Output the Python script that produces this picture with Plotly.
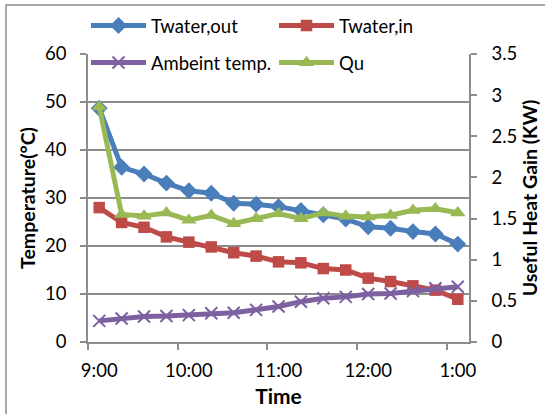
import plotly.graph_objects as go

times = ["9:00", "9:15", "9:30", "9:45", "10:00", "10:15", "10:30", "10:45", "11:00",
         "11:15", "11:30", "11:45", "12:00", "12:15", "12:30", "12:45", "1:00"]
t_out = [48.7, 36.4, 35.0, 33.1, 31.5, 31.0, 28.9, 28.7, 28.2, 27.4, 26.5, 25.6, 24.0, 23.7, 23.0, 22.5, 20.4]
t_in = [28.0, 24.9, 23.9, 21.9, 20.8, 19.8, 18.6, 17.9, 16.7, 16.5, 15.3, 15.0, 13.3, 12.6, 11.7, 10.8, 8.9]
t_amb = [4.4, 4.9, 5.3, 5.4, 5.6, 6.0, 6.1, 6.7, 7.4, 8.4, 9.1, 9.4, 10.0, 10.1, 10.6, 11.2, 11.5]
qu = [2.86, 1.55, 1.53, 1.57, 1.48, 1.54, 1.44, 1.50, 1.56, 1.50, 1.57, 1.53, 1.52, 1.54, 1.60, 1.62, 1.57]
label_times = ["9:00", "10:00", "11:00", "12:00", "1:00"]

xpos = list(range(len(times)))
label_pos = [times.index(t) for t in label_times]
boundary_pos = [p - 0.5 for p in label_pos]

BLUE, RED, PURPLE, GREEN = "#4A7EBB", "#BE4B48", "#7D60A0", "#98B954"
GRAY = "#8C8C8C"
FONT = "Lato"
W, H = 545, 414

fig = go.Figure()
fig.add_trace(go.Scatter(x=xpos, y=t_out, name="Twater,out", mode="lines+markers",
                         line=dict(color=BLUE, width=5), showlegend=True,
                         marker=dict(symbol="diamond", size=13, color=BLUE), legend="legend"))
fig.add_trace(go.Scatter(x=xpos, y=t_in, name="Twater,in", mode="lines+markers",
                         line=dict(color=RED, width=5), showlegend=True,
                         marker=dict(symbol="square", size=11.5, color=RED), legend="legend2"))
fig.add_trace(go.Scatter(x=xpos, y=t_amb, name="Ambeint temp.", mode="lines+markers",
                         line=dict(color=PURPLE, width=5), showlegend=True,
                         marker=dict(symbol="x-thin", size=12, color=PURPLE,
                                     line=dict(color=PURPLE, width=2)), legend="legend3"))
fig.add_trace(go.Scatter(x=xpos, y=qu, name="Qu", mode="lines+markers", yaxis="y2",
                         line=dict(color=GREEN, width=5), showlegend=True,
                         marker=dict(symbol="triangle-up", size=13.5, color=GREEN), legend="legend4"))

legend_common = dict(orientation="h", xref="container", yref="container",
                     xanchor="left", yanchor="middle", bgcolor="rgba(0,0,0,0)",
                     font=dict(size=18.5), itemwidth=55)

fig.update_layout(
    width=W, height=H, showlegend=True,
    margin=dict(l=88, r=76, t=54, b=72, autoexpand=False),
    paper_bgcolor="white", plot_bgcolor="white",
    font=dict(family=FONT, size=18, color="#000000"),
    xaxis=dict(range=[-0.5, len(times) - 0.5], tickmode="array", tickvals=label_pos,
               ticktext=label_times, ticks="", showgrid=False, showline=True,
               linecolor=GRAY, linewidth=1.5, zeroline=False,
               tickfont=dict(size=18.5), ticklabelstandoff=11,
               minor=dict(tickmode="array", tickvals=boundary_pos, ticks="outside",
                          ticklen=6, tickcolor=GRAY, tickwidth=1.5, showgrid=False),
               title=dict(text="<b>Time</b>", font=dict(size=21), standoff=9)),
    yaxis=dict(range=[0, 60], dtick=10, ticks="outside", ticklen=6, tickcolor=GRAY,
               tickwidth=1.5, showgrid=True, gridcolor=GRAY, gridwidth=1.5,
               showline=True, linecolor=GRAY, linewidth=1.5, zeroline=False,
               tickfont=dict(size=18.5), ticklabelstandoff=10,
               title=dict(text="<b>Temperature(°C)</b>", font=dict(size=19.5), standoff=4)),
    yaxis2=dict(range=[0, 3.5], dtick=0.5, overlaying="y", side="right", ticks="outside",
                ticklen=6, tickcolor=GRAY, tickwidth=1.5, showgrid=False, showline=True,
                linecolor=GRAY, linewidth=1.5, zeroline=False,
                tickfont=dict(size=18.5), ticklabelstandoff=11,
                title=dict(text="<b>Useful Heat Gain (KW)</b>", font=dict(size=19.5), standoff=7)),
    legend=dict(x=86 / W, y=1 - 26 / H, **legend_common),
    legend2=dict(x=274 / W, y=1 - 26 / H, **legend_common),
    legend3=dict(x=86 / W, y=1 - 63 / H, **legend_common),
    legend4=dict(x=274 / W, y=1 - 63 / H, **legend_common),
    shapes=[dict(type="rect", xref="paper", yref="paper",
                 x0=(6 - 88) / 381, x1=(552 - 88) / 381,
                 y0=(342 - 420) / 288, y1=(342 - 5) / 288,
                 line=dict(color=GRAY, width=1.5))],
)

fig.write_html("out.html")
